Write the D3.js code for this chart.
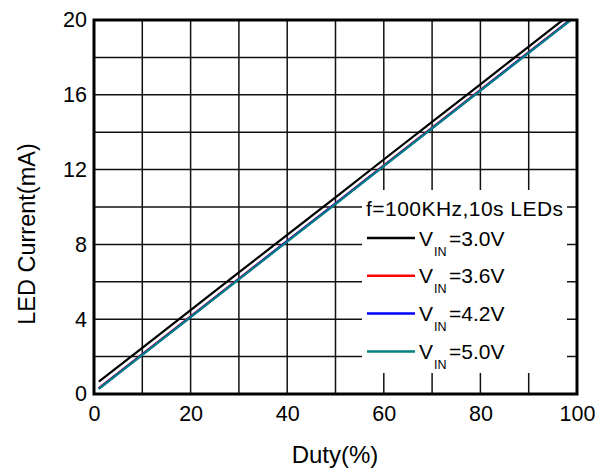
<!DOCTYPE html>
<html><head><meta charset="utf-8">
<script src="https://cdn.jsdelivr.net/npm/d3@7"></script>
<style>body{margin:0;background:#fff}svg{display:block}text{font-family:"Liberation Sans",Arial,sans-serif;fill:#000}</style>
</head><body>
<script>
const duty = [1,10,20,30,40,50,60,70,80,90,100];
const vin30 = [0.66,2.47,4.49,6.50,8.51,10.52,12.54,14.55,16.56,18.58,20.59];
const vin36 = [0.31,2.13,4.15,6.17,8.19,10.20,12.22,14.24,16.26,18.28,20.29];
const vin42 = [0.29,2.11,4.13,6.15,8.17,10.18,12.20,14.22,16.24,18.26,20.27];
const vin50 = [0.27,2.09,4.11,6.13,8.15,10.16,12.18,14.20,16.22,18.24,20.25];
const seriesNames = ["3.0V","3.6V","4.2V","5.0V"];
const seriesColors = ["#000000","#ff0000","#0000ff","#008080"];
const xTicks = [0,20,40,60,80,100];
const yTicks = [0,4,8,12,16,20];
const xGrid = [10,20,30,40,50,60,70,80,90];
const yGrid = [2,4,6,8,10,12,14,16,18];
const legendTitle = "f=100KHz,10s LEDs";

const W=604,H=473;
const svg=d3.select("body").append("svg").attr("width",W).attr("height",H);
const x=d3.scaleLinear().domain([0,100]).range([94,577]);
const y=d3.scaleLinear().domain([0,20]).range([394,20]);

// grid
svg.append("g").selectAll("line").data(xGrid).join("line")
 .attr("x1",d=>x(d)).attr("x2",d=>x(d)).attr("y1",y(0)).attr("y2",y(20))
 .attr("stroke","#111").attr("stroke-width",1.5);
svg.append("g").selectAll("line").data(yGrid).join("line")
 .attr("y1",d=>y(d)).attr("y2",d=>y(d)).attr("x1",x(0)).attr("x2",x(100))
 .attr("stroke","#111").attr("stroke-width",1.5);

// series
svg.append("clipPath").attr("id","clip").append("rect")
 .attr("x",x(0)).attr("y",y(20)).attr("width",x(100)-x(0)).attr("height",y(0)-y(20));
const data=[vin30,vin36,vin42,vin50];
const line=d3.line().x((d,i)=>x(duty[i])).y(d=>y(d));
svg.append("g").attr("clip-path","url(#clip)").selectAll("path").data(data).join("path")
 .attr("d",d=>line(d)).attr("fill","none")
 .attr("stroke",(d,i)=>seriesColors[i]).attr("stroke-width",2.2);

// legend box
svg.append("rect").attr("x",362).attr("y",190).attr("width",205).attr("height",183).attr("fill","#fff");
svg.append("text").attr("x",366).attr("y",216).attr("font-size",21)
 .attr("textLength",197).attr("lengthAdjust","spacing").text(legendTitle);
const lg=svg.append("g").selectAll("g").data(seriesNames).join("g")
 .attr("transform",(d,i)=>`translate(0,${238+i*37.8})`);
lg.append("line").attr("x1",367).attr("x2",415).attr("y1",0).attr("y2",0)
 .attr("stroke",(d,i)=>seriesColors[i]).attr("stroke-width",2.5);
lg.each(function(d){
  const t=d3.select(this).append("text").attr("font-size",21).attr("y",7.5);
  t.append("tspan").attr("x",419).text("V");
  t.append("tspan").attr("x",434).attr("font-size",12.5).attr("dy",10).text("IN");
  t.append("tspan").attr("x",449).attr("dy",-10).text("="+d);
});

// frame
svg.append("rect").attr("x",x(0)).attr("y",y(20)).attr("width",x(100)-x(0)).attr("height",y(0)-y(20))
 .attr("fill","none").attr("stroke","#000").attr("stroke-width",3);

// axes labels
const xa=d3.axisBottom(x).tickValues(xTicks).tickSize(0).tickPadding(12);
svg.append("g").attr("transform",`translate(0,${y(0)})`).call(xa)
 .call(g=>g.select(".domain").remove())
 .selectAll("text").attr("font-size",21.5).attr("font-family","Liberation Sans, Arial, sans-serif");
const ya=d3.axisLeft(y).tickValues(yTicks).tickSize(0).tickPadding(7);
svg.append("g").attr("transform",`translate(${x(0)},0)`).call(ya)
 .call(g=>g.select(".domain").remove())
 .selectAll("text").attr("font-size",21.5).attr("font-family","Liberation Sans, Arial, sans-serif");

svg.append("text").attr("x",335).attr("y",463).attr("text-anchor","middle").attr("font-size",24).text("Duty(%)");
svg.append("text").attr("transform","translate(35,234) rotate(-90)").attr("text-anchor","middle").attr("font-size",23.5).text("LED Current(mA)");
</script>
</body></html>
